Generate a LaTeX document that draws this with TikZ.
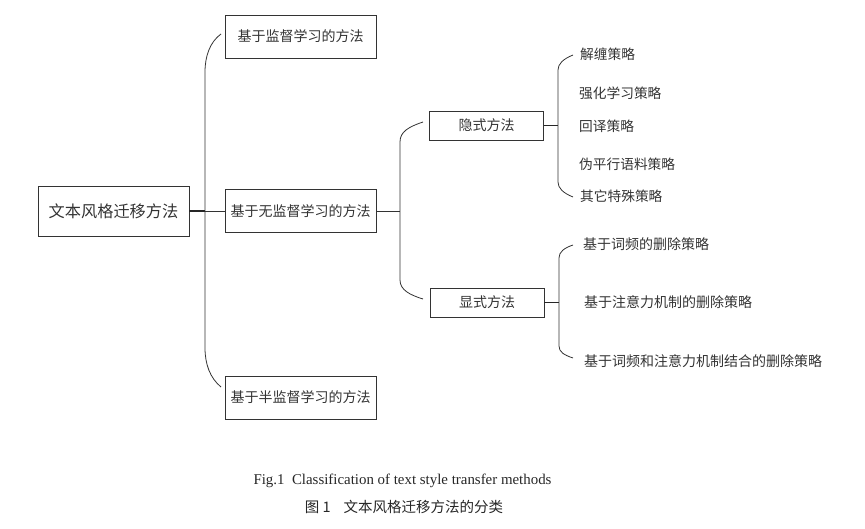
\documentclass[tikz,border=0pt]{standalone}
\usepackage{fontspec}
\setmainfont{Liberation Serif}
\newfontfamily\cjk{Noto Sans CJK SC}[Scale=1]
\begin{document}
\begin{tikzpicture}[x=1pt,y=-1pt,
  box/.style={draw=black!80,line width=0.9pt,minimum height=43pt,minimum width=151pt,inner sep=0pt,font=\cjk\fontsize{14}{16}\selectfont,text=black!80},
  sbox/.style={draw=black!80,line width=0.9pt,minimum height=29pt,minimum width=114pt,inner sep=0pt,font=\cjk\fontsize{14}{16}\selectfont,text=black!80},
  item/.style={anchor=west,inner sep=0pt,font=\cjk\fontsize{13.7}{15}\selectfont,text=black!80},
  eitem/.style={item,font=\cjk\fontsize{14}{16}\selectfont},
  conn/.style={draw=black!80,line width=0.8pt},
  thick conn/.style={draw=black!85,line width=1.5pt}]
\useasboundingbox (0,0) rectangle (865,529);
% nodes
\node[box,minimum width=151pt,minimum height=50pt,font=\cjk\fontsize{16.2}{20}\selectfont] (root) at (113.5,211) {文本风格迁移方法};
\node[box] (sup) at (300.5,36.5) {基于监督学习的方法};
\node[box] (uns) at (300.5,211) {基于无监督学习的方法};
\node[box] (semi) at (300.5,397.5) {基于半监督学习的方法};
\node[sbox] (imp) at (486.5,125.5) {隐式方法};
\node[sbox] (exp) at (487,302.5) {显式方法};
\node[item] (i1) at (580,54) {解缠策略};
\node[item] (i2) at (579,93) {强化学习策略};
\node[item] (i3) at (579,126) {回译策略};
\node[item] (i4) at (579,164) {伪平行语料策略};
\node[item] (i5) at (580,196) {其它特殊策略};
\node[eitem] (e1) at (583,244) {基于词频的删除策略};
\node[eitem] (e2) at (584,302) {基于注意力机制的删除策略};
\node[eitem] (e3) at (584,361) {基于词频和注意力机制结合的删除策略};
% bracket coordinates
\coordinate (b1) at (205,211);
\coordinate (b1t) at (221,34);
\coordinate (b1b) at (221,387);
\coordinate (b2) at (400,211);
\coordinate (b2t) at (423,122);
\coordinate (b2b) at (423,299);
\coordinate (b3) at (558,125.5);
\coordinate (b3t) at (573,55);
\coordinate (b3b) at (573,197);
\coordinate (b4) at (559,302.5);
\coordinate (b4t) at (573,245);
\coordinate (b4b) at (573,358);
% connectors
\draw[thick conn] (root.east) -- (b1);
\draw[conn] (b1) -- (uns.west);
\draw[conn] (b1t) .. controls (210,42) and (205,56) .. (205,72) -- (205,348) .. controls (205,364) and (210,378) .. (b1b);
\draw[conn] (uns.east) -- (b2);
\draw[conn] (b2t) .. controls (408,127) and (400,132) .. (400,142) -- (400,280) .. controls (400,290) and (410,295) .. (b2b);
\draw[thick conn] (imp.east) -- (b3);
\draw[conn] (b3t) .. controls (563,59) and (558,64) .. (558,70) -- (558,182) .. controls (558,188) and (563,193) .. (b3b);
\draw[thick conn,line width=1.2pt] (exp.east) -- (b4);
\draw[conn] (b4t) .. controls (564,248) and (559,252) .. (559,258) -- (559,346) .. controls (559,352) and (564,355) .. (b4b);
% captions
\node[inner sep=0pt,font=\fontsize{14.9}{17}\selectfont,text=black!85] (cap1) at (402.5,481) {Fig.1\ \ Classification of text style transfer methods};
\node[inner sep=0pt,font=\cjk\fontsize{14.5}{17}\selectfont,text=black!85] (cap2) at (404,507) {图 1\hspace{0.9em}文本风格迁移方法的分类};
\end{tikzpicture}
\end{document}
